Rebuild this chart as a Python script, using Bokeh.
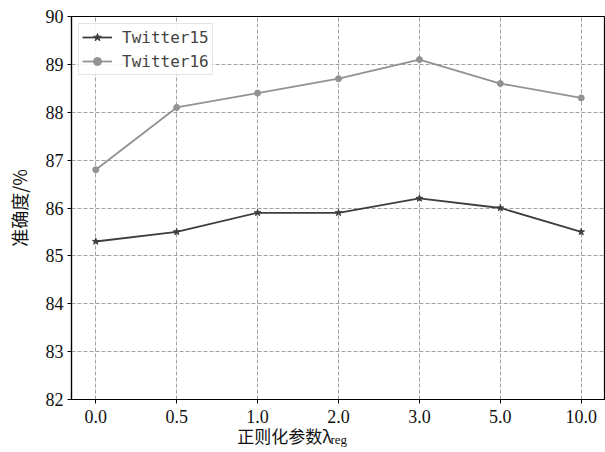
from bokeh.plotting import figure
from bokeh.models import Legend, LegendItem, Label, FixedTicker
from bokeh.embed import file_html
from bokeh.resources import INLINE

categories = ["0.0", "0.5", "1.0", "2.0", "3.0", "5.0", "10.0"]
twitter15 = [85.3, 85.5, 85.9, 85.9, 86.2, 86.0, 85.5]
twitter16 = [86.8, 88.1, 88.4, 88.7, 89.1, 88.6, 88.3]
y_ticks = [82, 83, 84, 85, 86, 87, 88, 89, 90]

p = figure(width=605, height=452, x_range=categories, y_range=(82, 90),
           output_backend="svg", toolbar_location=None,
           min_border_left=71, min_border_right=0, min_border_top=16, min_border_bottom=53)
p.x_range.range_padding_units = "absolute"
p.x_range.range_padding = -0.2
p.x_range.factor_padding = 0

p.outline_line_color = "black"
p.outline_line_width = 1.2
p.background_fill_color = "white"
p.border_fill_color = "white"

for g in (p.xgrid, p.ygrid):
    g.grid_line_color = "#a0a0a0"
    g.grid_line_dash = "4 2"
    g.grid_line_width = 1

p.yaxis.ticker = FixedTicker(ticks=y_ticks)
for ax in (p.xaxis, p.yaxis):
    ax.axis_line_color = "black"
    ax.axis_line_width = 1.2
    ax.major_tick_in = 0
    ax.major_tick_out = 4
    ax.minor_tick_line_color = None
    ax.major_label_text_font = "Liberation Serif"
    ax.major_label_text_font_size = "18px"
    ax.major_label_text_color = "#111111"
p.xaxis.major_label_standoff = 6
p.yaxis.major_label_standoff = 4
p.yaxis.axis_label = "准确度/%"
p.yaxis.axis_label_text_font = "Noto Sans CJK SC"
p.yaxis.axis_label_text_font_size = "18px"
p.yaxis.axis_label_text_font_style = "normal"
p.yaxis.axis_label_text_color = "#111111"
p.yaxis.axis_label_standoff = 11

c15 = "#3e3e3e"
c16 = "#929292"
l15 = p.line(categories, twitter15, line_color=c15, line_width=1.8)
m15 = p.scatter(categories, twitter15, marker="star", size=7, fill_color=c15, line_color=c15)
l16 = p.line(categories, twitter16, line_color=c16, line_width=1.8)
m16 = p.scatter(categories, twitter16, marker="circle", size=6, fill_color=c16, line_color=c16)

legend = Legend(items=[LegendItem(label="Twitter15", renderers=[l15, m15]),
                       LegendItem(label="Twitter16", renderers=[l16, m16])],
                location="top_left")
legend.label_text_font = "DejaVu Sans Mono"
legend.label_text_font_size = "16px"
legend.border_line_color = "#cccccc"
legend.border_line_width = 1
legend.background_fill_alpha = 0.9
legend.glyph_width = 30
legend.glyph_height = 20
legend.label_height = 20
legend.spacing = 4
legend.padding = 3
legend.margin = 7
legend.label_standoff = 10
p.add_layout(legend)

p.add_layout(Label(x=213, y=15, x_units="screen", y_units="screen",
                   text="正则化参数λ", text_font="Noto Sans CJK SC",
                   text_font_size="17px", text_align="center", text_baseline="middle",
                   text_color="#111111"), "below")
p.add_layout(Label(x=259, y=-423, x_units="screen", y_units="screen",
                   text="reg", text_font="Liberation Serif",
                   text_font_size="13px", text_align="left", text_baseline="middle",
                   text_color="#111111"), "above")

open("out.html", "w").write(file_html(p, INLINE))
